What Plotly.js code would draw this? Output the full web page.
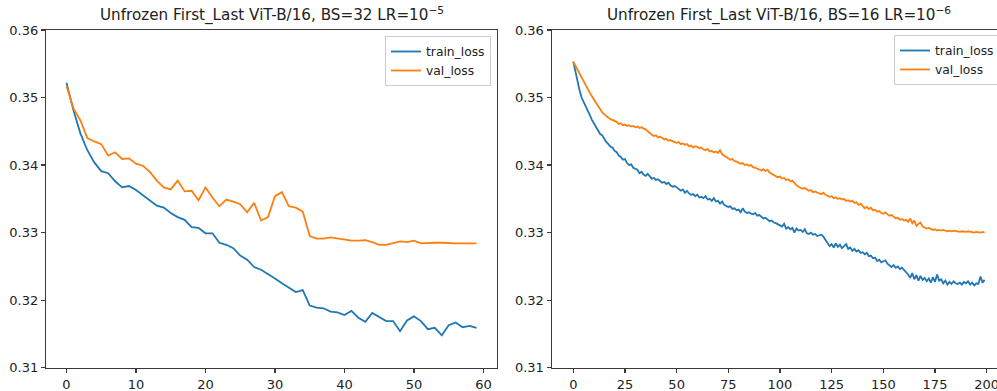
<!DOCTYPE html>
<html>
<head>
<meta charset="utf-8">
<script src="https://cdn.plot.ly/plotly-3.0.1.min.js"></script>
<style>html,body{margin:0;padding:0;background:#fff;overflow:hidden;}#chart{width:997px;height:391px;}</style>
</head>
<body>
<div id="chart"></div>
<script>
// ---- Data ----
const leftTitle = "Unfrozen First_Last ViT-B/16, BS=32 LR=10<sup>\u22125</sup>";
const rightTitle = "Unfrozen First_Last ViT-B/16, BS=16 LR=10<sup>\u22126</sup>";
const seriesNames = ["train_loss", "val_loss"];

const leftTrain = [
  0.3522, 0.3481, 0.3447, 0.3422, 0.3404, 0.3391, 0.3388, 0.3376, 0.3367, 0.3369,
  0.3363, 0.3355, 0.3348, 0.3340, 0.3337, 0.3329, 0.3323, 0.3319, 0.3308, 0.3307,
  0.3299, 0.3299, 0.3285, 0.3282, 0.3277, 0.3266, 0.3260, 0.3249, 0.3245, 0.3239,
  0.3232, 0.3225, 0.3219, 0.3212, 0.3215, 0.3192, 0.3189, 0.3188, 0.3183, 0.3182,
  0.3178, 0.3184, 0.3174, 0.3168, 0.3181, 0.3175, 0.3169, 0.3169, 0.3154, 0.3170,
  0.3176, 0.3169, 0.3157, 0.3159, 0.3148, 0.3163, 0.3167, 0.3160, 0.3162, 0.3159
];
const leftVal = [
  0.3517, 0.3484, 0.3466, 0.3440, 0.3435, 0.3431, 0.3414, 0.3419, 0.3409, 0.3410,
  0.3402, 0.3399, 0.3390, 0.3377, 0.3367, 0.3364, 0.3377, 0.3361, 0.3362, 0.3348,
  0.3367, 0.3352, 0.3339, 0.3349, 0.3346, 0.3342, 0.3330, 0.3344, 0.3318, 0.3323,
  0.3354, 0.3360, 0.3339, 0.3337, 0.3331, 0.3295, 0.3291, 0.3291, 0.3293, 0.3291,
  0.3289, 0.3288, 0.3288, 0.3289, 0.3286, 0.3282, 0.3282, 0.3285, 0.3287, 0.3286,
  0.3288, 0.3284, 0.3285, 0.3285, 0.3285, 0.3284, 0.3284, 0.3284, 0.3284, 0.3284
];

const rightTrain = [
  0.3553, 0.3538, 0.3524, 0.3511, 0.3500, 0.3494, 0.3486, 0.3481, 0.3474, 0.3467,
  0.3462, 0.3456, 0.3453, 0.3446, 0.3444, 0.3438, 0.3434, 0.3431, 0.3427, 0.3426,
  0.3421, 0.3419, 0.3414, 0.3412, 0.3408, 0.3409, 0.3403, 0.3400, 0.3401, 0.3396,
  0.3395, 0.3393, 0.3388, 0.3390, 0.3386, 0.3384, 0.3387, 0.3383, 0.3380, 0.3381,
  0.3378, 0.3379, 0.3376, 0.3374, 0.3375, 0.3372, 0.3374, 0.3370, 0.3368, 0.3369,
  0.3367, 0.3365, 0.3362, 0.3364, 0.3359, 0.3362, 0.3358, 0.3356, 0.3357, 0.3354,
  0.3356, 0.3352, 0.3353, 0.3351, 0.3354, 0.3349, 0.3350, 0.3347, 0.3351, 0.3346,
  0.3347, 0.3343, 0.3346, 0.3341, 0.3340, 0.3338, 0.3339, 0.3335, 0.3336, 0.3333,
  0.3334, 0.3330, 0.3336, 0.3331, 0.3329, 0.3330, 0.3328, 0.3327, 0.3329, 0.3325,
  0.3326, 0.3323, 0.3321, 0.3322, 0.3319, 0.3317, 0.3318, 0.3315, 0.3314, 0.3312,
  0.3311, 0.3309, 0.3313, 0.3306, 0.3308, 0.3305, 0.3307, 0.3300, 0.3306, 0.3303,
  0.3304, 0.3301, 0.3305, 0.3299, 0.3298, 0.3300, 0.3297, 0.3298, 0.3295, 0.3296,
  0.3297, 0.3294, 0.3289, 0.3285, 0.3280, 0.3283, 0.3278, 0.3284, 0.3279, 0.3282,
  0.3277, 0.3280, 0.3283, 0.3276, 0.3278, 0.3273, 0.3276, 0.3272, 0.3274, 0.3270,
  0.3271, 0.3268, 0.3270, 0.3265, 0.3266, 0.3262, 0.3263, 0.3258, 0.3260, 0.3256,
  0.3257, 0.3259, 0.3254, 0.3251, 0.3249, 0.3252, 0.3248, 0.3250, 0.3246, 0.3248,
  0.3245, 0.3242, 0.3238, 0.3233, 0.3240, 0.3231, 0.3237, 0.3229, 0.3236, 0.3230,
  0.3233, 0.3228, 0.3232, 0.3226, 0.3234, 0.3227, 0.3238, 0.3229, 0.3231, 0.3225,
  0.3229, 0.3223, 0.3227, 0.3224, 0.3228, 0.3225, 0.3224, 0.3226, 0.3223, 0.3227,
  0.3225, 0.3228, 0.3223, 0.3226, 0.3222, 0.3225, 0.3224, 0.3235, 0.3226, 0.3230
];
const rightVal = [
  0.3553, 0.3547, 0.3541, 0.3535, 0.3530, 0.3523, 0.3518, 0.3512, 0.3507, 0.3502,
  0.3497, 0.3492, 0.3487, 0.3482, 0.3478, 0.3475, 0.3472, 0.3470, 0.3468, 0.3467,
  0.3465, 0.3464, 0.3461, 0.3462, 0.3459, 0.3460, 0.3458, 0.3459, 0.3457, 0.3458,
  0.3456, 0.3457, 0.3455, 0.3456, 0.3454, 0.3453, 0.3450, 0.3447, 0.3445, 0.3443,
  0.3444, 0.3441, 0.3442, 0.3440, 0.3438, 0.3439, 0.3436, 0.3437, 0.3435, 0.3434,
  0.3433, 0.3434, 0.3431, 0.3432, 0.3430, 0.3431, 0.3428, 0.3429, 0.3426, 0.3428,
  0.3427, 0.3425, 0.3426, 0.3423, 0.3422, 0.3424, 0.3420, 0.3421, 0.3419, 0.3420,
  0.3418, 0.3422, 0.3416, 0.3414, 0.3411, 0.3410, 0.3408, 0.3409, 0.3406, 0.3405,
  0.3404, 0.3402, 0.3403, 0.3400, 0.3401, 0.3399, 0.3400, 0.3397, 0.3396, 0.3395,
  0.3394, 0.3392, 0.3394, 0.3391, 0.3393, 0.3389, 0.3387, 0.3385, 0.3383, 0.3382,
  0.3383, 0.3380, 0.3381, 0.3378, 0.3379, 0.3376, 0.3377, 0.3373, 0.3370, 0.3368,
  0.3366, 0.3365, 0.3366, 0.3364, 0.3362, 0.3363, 0.3360, 0.3361, 0.3359, 0.3358,
  0.3357, 0.3359, 0.3356, 0.3355, 0.3353, 0.3354, 0.3351, 0.3352, 0.3350, 0.3351,
  0.3349, 0.3350, 0.3347, 0.3348, 0.3346, 0.3347, 0.3344, 0.3345, 0.3341, 0.3343,
  0.3340, 0.3336, 0.3338, 0.3335, 0.3337, 0.3333, 0.3334, 0.3331, 0.3332, 0.3329,
  0.3328, 0.3330, 0.3327, 0.3325, 0.3326, 0.3323, 0.3321, 0.3322, 0.3319, 0.3320,
  0.3318, 0.3319, 0.3316, 0.3321, 0.3314, 0.3318, 0.3310, 0.3313, 0.3315, 0.3309,
  0.3308, 0.3306, 0.3307, 0.3305, 0.3304, 0.3305, 0.3303, 0.3304, 0.3303, 0.3304,
  0.3303, 0.3302, 0.3303, 0.3302, 0.3303, 0.3302, 0.3302, 0.3301, 0.3302, 0.3301,
  0.3301, 0.3302, 0.3301, 0.3301, 0.3300, 0.3301, 0.3300, 0.3300, 0.3301, 0.3300
];

const leftXTicks = [0, 10, 20, 30, 40, 50, 60];
const rightXTicks = [0, 25, 50, 75, 100, 125, 150, 175, 200];
const yTicks = [0.31, 0.32, 0.33, 0.34, 0.35, 0.36];
const yTickLabels = ["0.31", "0.32", "0.33", "0.34", "0.35", "0.36"];

// ---- Styling / layout ----
const W = 997, H = 391;
const BLUE = "#1f77b4", ORANGE = "#ff7f0e";
const AX = "#3a3a3a";
const FONT = {family: "DejaVu Sans, sans-serif", size: 13, color: "#222"};
const TFONT = {family: "DejaVu Sans, sans-serif", size: 15.2, color: "#222"};
const LFONT = {family: "DejaVu Sans, sans-serif", size: 12.3, color: "#222"};
const idx = n => Array.from({length: n}, (_, i) => i);

const traces = [
  {x: idx(leftTrain.length), y: leftTrain, name: seriesNames[0], mode: "lines",
   line: {color: BLUE, width: 1.8}, xaxis: "x", yaxis: "y", legend: "legend"},
  {x: idx(leftVal.length), y: leftVal, name: seriesNames[1], mode: "lines",
   line: {color: ORANGE, width: 1.8}, xaxis: "x", yaxis: "y", legend: "legend"},
  {x: idx(rightTrain.length), y: rightTrain, name: seriesNames[0], mode: "lines",
   line: {color: BLUE, width: 1.8}, xaxis: "x2", yaxis: "y2", legend: "legend2"},
  {x: idx(rightVal.length), y: rightVal, name: seriesNames[1], mode: "lines",
   line: {color: ORANGE, width: 1.8}, xaxis: "x2", yaxis: "y2", legend: "legend2"}
];

const yDom = [(H - 367.7) / H, (H - 30) / H];
const baseAxis = {
  showgrid: false, zeroline: false, showline: true, linecolor: AX, linewidth: 1.2,
  ticks: "outside", ticklen: 4, tickcolor: AX, tickwidth: 1.2,
  tickfont: FONT, automargin: false, fixedrange: true, ticklabeloverflow: "allow"
};
const legendBase = {
  bgcolor: "rgba(255,255,255,0.85)", bordercolor: "#cccccc", borderwidth: 1,
  font: LFONT, xanchor: "left", yanchor: "top", xref: "paper", yref: "paper",
  tracegroupgap: 0
};

const layout = {
  width: W, height: H,
  margin: {l: 0, r: 0, t: 0, b: 0, pad: 0, autoexpand: false},
  paper_bgcolor: "#fff", plot_bgcolor: "#fff",
  font: FONT,
  showlegend: true,
  xaxis: Object.assign({}, baseAxis, {
    domain: [46 / W, 497 / W], range: [-2.95, 61.95], mirror: true,
    tickvals: leftXTicks, ticktext: leftXTicks.map(String), anchor: "y"
  }),
  yaxis: Object.assign({}, baseAxis, {
    domain: yDom, range: [0.31, 0.36], mirror: true,
    tickvals: yTicks, ticktext: yTickLabels, anchor: "x"
  }),
  xaxis2: Object.assign({}, baseAxis, {
    domain: [551.7 / W, 1], range: [-10.45, 205.0], mirror: true,
    tickvals: rightXTicks, ticktext: rightXTicks.map(String), anchor: "y2"
  }),
  yaxis2: Object.assign({}, baseAxis, {
    domain: yDom, range: [0.31, 0.36], mirror: false,
    tickvals: yTicks, ticktext: yTickLabels, anchor: "x2"
  }),
  legend: Object.assign({}, legendBase, {x: 385 / W, y: 1 - 36 / H}),
  legend2: Object.assign({}, legendBase, {x: 894 / W, y: 1 - 35 / H}),
  annotations: [
    {text: leftTitle, xref: "paper", yref: "paper", x: 271.5 / W, y: 1 - 15 / H,
     xanchor: "center", yanchor: "middle", showarrow: false, font: TFONT},
    {text: rightTitle, xref: "paper", yref: "paper", x: 779 / W, y: 1 - 15 / H,
     xanchor: "center", yanchor: "middle", showarrow: false, font: TFONT}
  ]
};

Plotly.newPlot("chart", traces, layout, {displayModeBar: false, staticPlot: true});
</script>
</body>
</html>
